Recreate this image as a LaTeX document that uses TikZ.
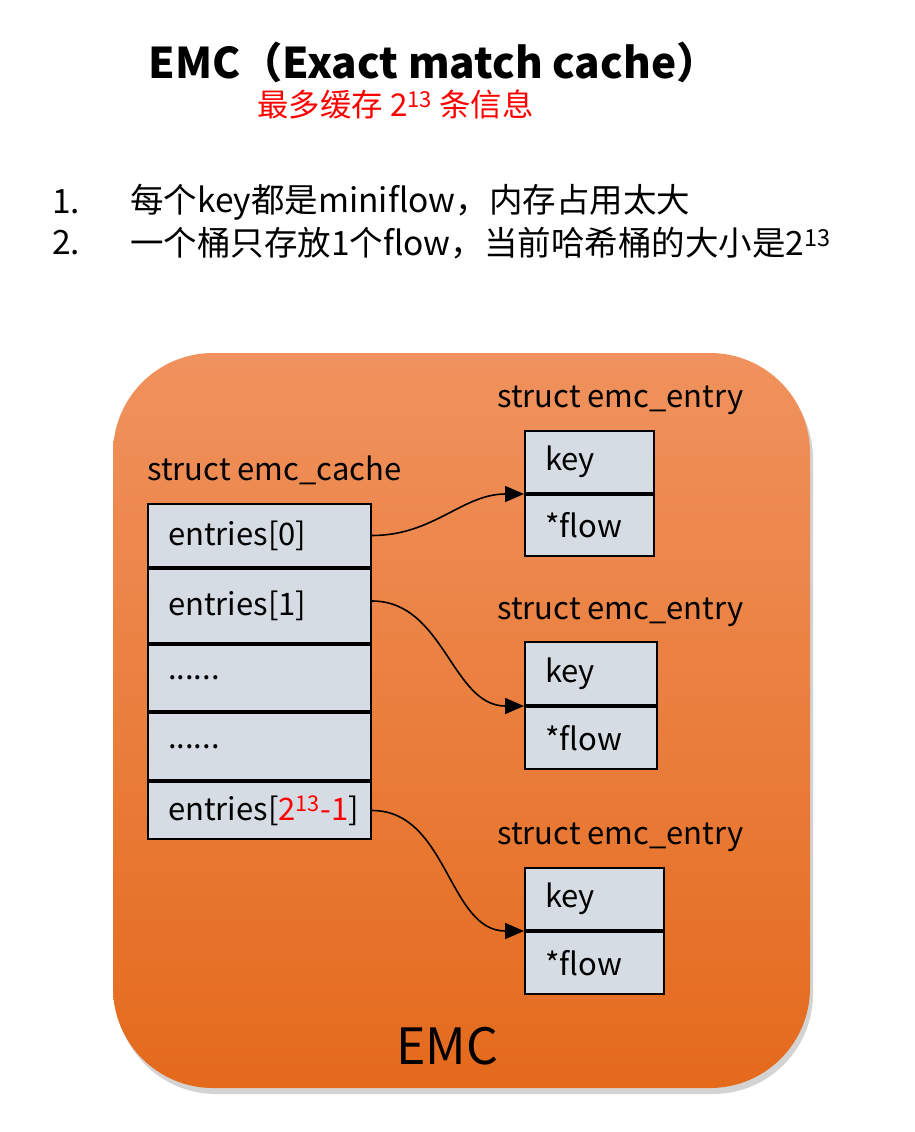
\documentclass[tikz,border=0pt]{standalone}
\usepackage{fontspec}
\setmainfont{Noto Sans CJK SC}
\usetikzlibrary{arrows.meta,positioning,shadows}
\definecolor{emctop}{RGB}{240,146,94}
\definecolor{emcmid}{RGB}{245,126,44}
\definecolor{emcbot}{RGB}{228,106,28}
\definecolor{cellgray}{RGB}{214,220,228}
\definecolor{emcred}{RGB}{255,0,0}

\begin{document}
\begin{tikzpicture}[x=1pt,y=-1pt,
  panel/.style={rectangle, rounded corners=100pt, top color=emctop, middle color=emcmid,
    bottom color=emcbot, minimum width=697pt, minimum height=735pt,
    drop shadow={shadow xshift=3pt, shadow yshift=-6pt, opacity=0.35}},
  cell/.style={rectangle, draw=black, line width=2pt, fill=cellgray, anchor=north west,
    inner xsep=20pt, align=left, font=\fontsize{31}{36}\selectfont},
  tag/.style={anchor=west, inner sep=0pt, font=\fontsize{31}{36}\selectfont},
  listtext/.style={anchor=west, inner sep=0pt, font=\fontsize{33.5}{38}\selectfont},
  link/.style={-{Triangle[length=19pt,width=16pt]}, line width=1.6pt, black}]
\useasboundingbox (0,0) rectangle (914,1132);

% heading
\node[font=\fontsize{42.3}{48}\selectfont\bfseries, inner sep=0pt] (title) at (433.5,62)
  {EMC（Exact match cache）};
\node[font=\fontsize{31.4}{36}\selectfont, text=emcred, inner sep=0pt] (subtitle) at (395.5,104)
  {最多缓存 2\textsuperscript{13} 条信息};

% notes
\node[listtext] (num1) at (52,202) {1.};
\node[listtext] (item1) at (130,202) {每个key都是miniflow，内存占用太大};
\node[listtext] (num2) at (52,243) {2.};
\node[listtext] (item2) at (130,243) {一个桶只存放1个flow，当前哈希桶的大小是2\textsuperscript{13}};

% EMC block
\node[panel] (emc) at (461.5,720.5) {};
\node[font=\fontsize{50}{56}\selectfont, inner sep=0pt] (emclabel) at (447,1046) {EMC};

% struct emc_cache
\node[tag] (cachelabel) at (147,470) {struct emc\_cache};
\node[cell, text width=183pt, minimum height=63pt] (c0) at (147,503) {entries[0]};
\node[cell, text width=183pt, minimum height=74pt] (c1) at (c0.south west) {entries[1]};
\node[cell, text width=183pt, minimum height=66pt] (c2) at (c1.south west) {......};
\node[cell, text width=183pt, minimum height=67pt] (c3) at (c2.south west) {......};
\node[cell, text width=183pt, minimum height=57pt] (c4) at (c3.south west)
  {\mbox{entries[\textcolor{emcred}{2\textsuperscript{13}-1}]}};

% struct emc_entry
\node[tag] (e1label) at (497,400) {struct emc\_entry};
\node[cell, text width=89pt, minimum height=62pt] (e1k) at (524,430) {key};
\node[cell, text width=89pt, minimum height=61pt] (e1f) at (e1k.south west) {*flow};

\node[tag] (e2label) at (497,612) {struct emc\_entry};
\node[cell, text width=92pt, minimum height=63pt] (e2k) at (524,641) {key};
\node[cell, text width=92pt, minimum height=62pt] (e2f) at (e2k.south west) {*flow};

\node[tag] (e3label) at (497,837) {struct emc\_entry};
\node[cell, text width=99pt, minimum height=62pt] (e3k) at (524,867) {key};
\node[cell, text width=99pt, minimum height=62pt] (e3f) at (e3k.south west) {*flow};

% pointers
\draw[link] (c0.east) to[out=0, in=180] (e1k.south west);
\draw[link] ([yshift=5pt]c1.east) to[out=0, in=180] (e2k.south west);
\draw[link] (c4.east) to[out=0, in=180] (e3k.south west);
\end{tikzpicture}
\end{document}
